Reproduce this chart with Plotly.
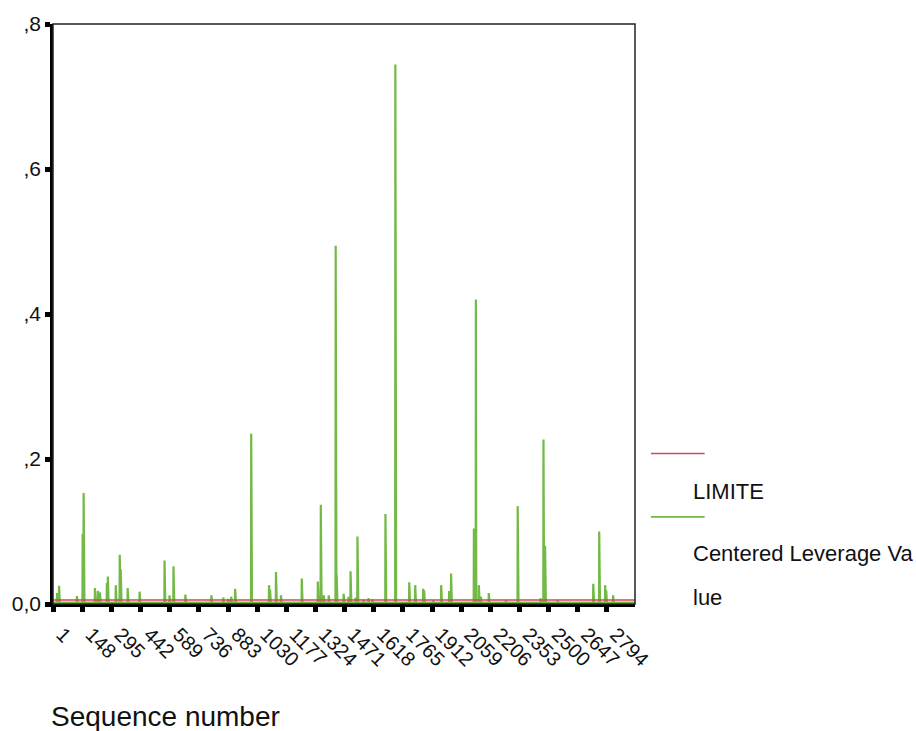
import plotly.graph_objects as go

# ---- data ----
n_cases = 2935
baseline_value = 0.002
limit_value = 0.0055

spike_index = [21, 31, 121, 150, 152, 155, 212, 227, 237, 272, 277, 317, 337, 342, 377,
               437, 563, 588, 608, 668, 799, 859, 884, 899, 919, 1000, 1090, 1095, 1125,
               1150, 1255, 1336, 1351, 1366, 1391, 1426, 1431, 1466, 1491, 1501, 1526,
               1536, 1566, 1591, 1611, 1677, 1727, 1797, 1827, 1867, 1872, 1918, 1958,
               1998, 2008, 2123, 2126, 2129, 2133, 2148, 2158, 2198, 2284, 2344, 2459,
               2474, 2478, 2482, 2545, 2725, 2755, 2785, 2790, 2825]
spike_value = [0.015, 0.025, 0.011, 0.097, 0.060, 0.153, 0.022, 0.018, 0.016, 0.029, 0.038,
               0.026, 0.068, 0.048, 0.022, 0.017, 0.060, 0.012, 0.052, 0.013, 0.012, 0.009,
               0.007, 0.010, 0.021, 0.235, 0.026, 0.020, 0.044, 0.012, 0.035, 0.031, 0.137,
               0.012, 0.012, 0.494, 0.040, 0.014, 0.010, 0.045, 0.009, 0.093, 0.006, 0.008,
               0.006, 0.124, 0.744, 0.030, 0.026, 0.021, 0.019, 0.005, 0.026, 0.018, 0.042,
               0.104, 0.104, 0.090, 0.420, 0.026, 0.010, 0.015, 0.005, 0.135, 0.008, 0.227,
               0.081, 0.080, 0.005, 0.028, 0.100, 0.026, 0.019, 0.012]

tick_values = [1 + 147 * i for i in range(20)]
tick_labels = [str(v) for v in tick_values]
y_tick_values = [0, 0.2, 0.4, 0.6, 0.8]
y_tick_labels = ["0,0", ",2", ",4", ",6", ",8"]

series_names = ["LIMITE", "Centered Leverage Va<br>lue"]

# ---- build series ----
seq = list(range(1, n_cases + 1))
leverage = [baseline_value] * n_cases
for i, v in zip(spike_index, spike_value):
    leverage[i - 1] = v
limite = [limit_value] * n_cases

GREEN = "#72b946"
RED = "#d5465c"

fig = go.Figure()
fig.add_trace(go.Scatter(x=seq, y=leverage, mode="lines",
                         line=dict(color=GREEN, width=2.2), showlegend=False))
fig.add_trace(go.Scatter(x=seq, y=limite, mode="lines",
                         line=dict(color=RED, width=1.6), showlegend=False))

FONT = "Liberation Sans, Arial, sans-serif"

fig.update_layout(
    width=916, height=731,
    margin=dict(l=50, r=281, t=18, b=127),
    paper_bgcolor="white", plot_bgcolor="white",
    font=dict(family=FONT, color="#111111"),
    xaxis=dict(range=[0.5, n_cases + 0.5], tickmode="array",
               tickvals=tick_values, ticktext=tick_labels, tickangle=45,
               tickfont=dict(size=20), showgrid=False, zeroline=False,
               showline=True, linecolor="black", linewidth=3,
               ticks="outside", ticklen=5, tickwidth=5, tickcolor="black",
               ticklabelshift=9, ticklabelstandoff=3),
    yaxis=dict(range=[0, 0.8], tickmode="array", tickvals=y_tick_values,
               ticktext=y_tick_labels, tickfont=dict(size=21), showgrid=False,
               zeroline=False, showline=True, linecolor="black", linewidth=2.5,
               ticks="outside", ticklen=5, tickwidth=5, tickcolor="black"),
)

# frame
fig.add_shape(type="rect", xref="paper", yref="paper", x0=0, x1=1, y0=0, y1=1,
              line=dict(color="#222222", width=1.5), layer="above")

plot_h = 731 - 18 - 127
def py(pix):
    return (604 - pix) / plot_h
def px(pix):
    return (pix - 50) / 585

# axis title
fig.add_annotation(text="Sequence number", xref="paper", yref="paper",
                   x=px(46), y=py(718), xanchor="left", yanchor="middle",
                   showarrow=False, font=dict(size=28, family=FONT))

# custom legend (sample line above text, as in the reference)
legend_items = [(RED, 452, [(series_names[0], 490)]),
                (GREEN, 516, [("Centered Leverage Va", 553), ("lue", 597)])]
for color, ly, texts in legend_items:
    fig.add_shape(type="line", xref="paper", yref="paper",
                  x0=px(651), x1=px(705), y0=py(ly), y1=py(ly),
                  line=dict(color=color, width=1.6))
    for t, ty in texts:
        fig.add_annotation(text=t, xref="paper", yref="paper", x=px(691), y=py(ty),
                           xanchor="left", yanchor="middle", showarrow=False,
                           font=dict(size=22, family=FONT))

fig.write_html("out.html")
